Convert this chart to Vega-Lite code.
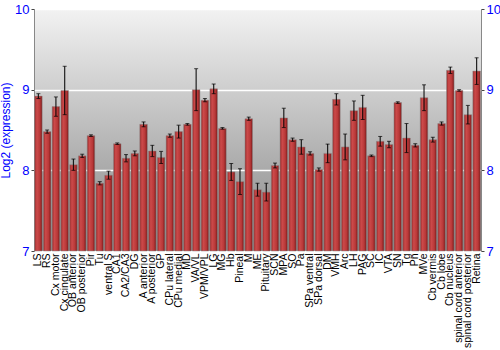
{
  "$schema": "https://vega.github.io/schema/vega-lite/v6.json",
  "autosize": "none",
  "width": 447,
  "height": 242,
  "padding": {"left": 34, "top": 9, "right": 19, "bottom": 99},
  "config": {
    "view": {
      "stroke": "#888888",
      "strokeWidth": 1,
      "fill": {
        "gradient": "linear",
        "x1": 0, "y1": 0, "x2": 0, "y2": 1,
        "stops": [
          {"offset": 0, "color": "#f2f2f2"},
          {"offset": 1, "color": "#858585"}
        ]
      }
    },
    "font": "Liberation Sans"
  },
  "data": {
    "values": [
      {"r": "LS", "v": 8.92, "e": 0.03},
      {"r": "RS", "v": 8.48, "e": 0.02},
      {"r": "Cx motor", "v": 8.79, "e": 0.12},
      {"r": "Cx cingulate", "v": 8.99, "e": 0.3},
      {"r": "OB anterior", "v": 8.07, "e": 0.07},
      {"r": "OB posterior", "v": 8.18, "e": 0.02},
      {"r": "Pir", "v": 8.43, "e": 0.01},
      {"r": "Tu", "v": 7.84, "e": 0.02},
      {"r": "ventral S", "v": 7.94, "e": 0.05},
      {"r": "CA1", "v": 8.33, "e": 0.01},
      {"r": "CA2/CA3", "v": 8.15, "e": 0.045},
      {"r": "DG", "v": 8.21, "e": 0.03},
      {"r": "A anterior", "v": 8.57, "e": 0.03},
      {"r": "A posterior", "v": 8.24, "e": 0.07},
      {"r": "GP", "v": 8.16, "e": 0.075},
      {"r": "CPu lateral", "v": 8.43, "e": 0.02},
      {"r": "CPu medial", "v": 8.48, "e": 0.08},
      {"r": "MD", "v": 8.57, "e": 0.01},
      {"r": "VA/VL", "v": 9.0, "e": 0.26},
      {"r": "VPM/VPL", "v": 8.87, "e": 0.02},
      {"r": "LG", "v": 9.01, "e": 0.06},
      {"r": "MG", "v": 8.52, "e": 0.01},
      {"r": "Hb", "v": 7.98, "e": 0.105},
      {"r": "Pineal", "v": 7.86, "e": 0.16},
      {"r": "M", "v": 8.64, "e": 0.02},
      {"r": "ME", "v": 7.76, "e": 0.08},
      {"r": "Pituitary", "v": 7.73, "e": 0.11},
      {"r": "SCN", "v": 8.06, "e": 0.03},
      {"r": "MPA", "v": 8.65, "e": 0.12},
      {"r": "SO", "v": 8.38, "e": 0.02},
      {"r": "Pa", "v": 8.29, "e": 0.09},
      {"r": "SPa ventral", "v": 8.21, "e": 0.02},
      {"r": "SPa dorsal", "v": 8.01, "e": 0.02},
      {"r": "DM", "v": 8.21, "e": 0.115},
      {"r": "VMH", "v": 8.88, "e": 0.07},
      {"r": "Arc", "v": 8.29, "e": 0.16},
      {"r": "LH", "v": 8.74, "e": 0.12},
      {"r": "PAG", "v": 8.78, "e": 0.15},
      {"r": "SC", "v": 8.18, "e": 0.01},
      {"r": "IC", "v": 8.36, "e": 0.06},
      {"r": "VTA", "v": 8.32, "e": 0.04},
      {"r": "SN", "v": 8.84, "e": 0.01},
      {"r": "Tg", "v": 8.4, "e": 0.18},
      {"r": "Pn", "v": 8.31, "e": 0.02},
      {"r": "MVe", "v": 8.9, "e": 0.16},
      {"r": "Cb vermis", "v": 8.38, "e": 0.03},
      {"r": "Cb lobe", "v": 8.58, "e": 0.02},
      {"r": "Cb nucleus", "v": 9.24, "e": 0.04},
      {"r": "spinal cord anterior", "v": 8.99, "e": 0.01},
      {"r": "spinal cord posterior", "v": 8.69, "e": 0.115},
      {"r": "Retina", "v": 9.23, "e": 0.165}
    ]
  },
  "encoding": {
    "x": {
      "field": "r",
      "type": "nominal",
      "sort": null,
      "title": null,
      "scale": {"paddingInner": 0.14, "paddingOuter": 0.07},
      "axis": {
        "labelAngle": -90,
        "labelFontSize": 10.5,
        "labelColor": "#000000",
        "labelPadding": 2,
        "ticks": false,
        "domain": false,
        "labelOverlap": false,
        "labelLimit": 200
      }
    }
  },
  "layer": [
    {
      "mark": {
        "type": "bar",
        "stroke": "#8a8a8a",
        "strokeWidth": 0.5,
        "fill": {
          "gradient": "linear",
          "x1": 0, "y1": 0, "x2": 1, "y2": 0,
          "stops": [
            {"offset": 0, "color": "#9a2a2a"},
            {"offset": 0.3, "color": "#cc4a4a"},
            {"offset": 0.7, "color": "#b83838"},
            {"offset": 1, "color": "#7a1818"}
          ]
        }
      },
      "encoding": {
        "y": {
          "field": "v",
          "type": "quantitative",
          "scale": {"domain": [7, 10], "nice": false, "zero": false},
          "title": "Log2 (expression)",
          "axis": {
            "values": [7, 8, 9, 10],
            "format": "d",
            "labelColor": "#0000ff",
            "titleColor": "#0000ff",
            "labelFontSize": 13,
            "titleFontSize": 12,
            "titleFontWeight": "normal",
            "domainColor": "#888888",
            "tickColor": "#444444",
            "tickSize": 3,
            "gridColor": "#ffffff",
            "gridWidth": 1.5,
            "gridOpacity": 1,
            "grid": true,
            "labelPadding": 2,
            "titlePadding": 2
          }
        },
        "y2": {"datum": 7}
      }
    },
    {
      "mark": {
        "type": "errorbar",
        "ticks": {"size": 4, "color": "#000000", "strokeWidth": 1.2},
        "rule": {"color": "#000000", "strokeWidth": 1.2, "opacity": 0.85}
      },
      "encoding": {
        "y": {"field": "v", "type": "quantitative", "scale": {"domain": [7, 10], "nice": false, "zero": false}, "axis": null},
        "yError": {"field": "e"}
      }
    },
    {
      "mark": {"type": "rule", "opacity": 0},
      "encoding": {
        "y": {
          "field": "v",
          "type": "quantitative",
          "scale": {"domain": [7, 10], "nice": false, "zero": false},
          "axis": {
            "orient": "right",
            "values": [7, 8, 9, 10],
            "format": "d",
            "labelColor": "#0000ff",
            "labelFontSize": 13,
            "title": null,
            "domainColor": "#888888",
            "tickColor": "#444444",
            "tickSize": 3,
            "grid": false,
            "labelPadding": 2
          }
        }
      }
    }
  ],
  "resolve": {"scale": {"y": "shared"}, "axis": {"y": "independent"}}
}
